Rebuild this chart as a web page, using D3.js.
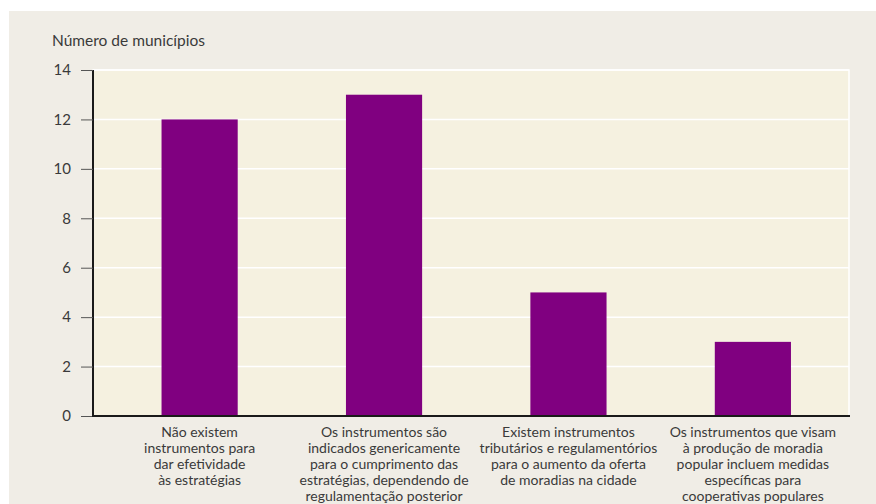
<!DOCTYPE html>
<html>
<head>
<meta charset="utf-8">
<script src="https://cdn.jsdelivr.net/npm/d3@7/dist/d3.min.js"></script>
<style>
  html, body { margin: 0; padding: 0; background: #ffffff; }
  svg { display: block; }
  text { font-family: Lato, "Open Sans", sans-serif; fill: #3a3a3a; }
</style>
</head>
<body>
<svg id="chart" width="876" height="504"></svg>
<script>
// Categories (each entry is a list of label lines)
const categories = [
  ["Não existem", "instrumentos para", "dar efetividade", "às estratégias"],
  ["Os instrumentos são", "indicados genericamente", "para o cumprimento das", "estratégias, dependendo de", "regulamentação posterior"],
  ["Existem instrumentos", "tributários e regulamentórios", "para o aumento da oferta", "de moradias na cidade"],
  ["Os instrumentos que visam", "à produção de moradia", "popular incluem medidas", "específicas para", "cooperativas populares"]
];
const values = [12, 13, 5, 3];
const yTicks = [0, 2, 4, 6, 8, 10, 12, 14];
const yLabel = "Número de municípios";

const svg = d3.select("#chart");

// Outer panel
svg.append("rect")
  .attr("x", 9).attr("y", 11)
  .attr("width", 867).attr("height", 493)
  .attr("fill", "#f0ede6");

const plot = { left: 93, right: 849, top: 70, bottom: 416 };

const y = d3.scaleLinear().domain([0, 14]).range([plot.bottom, plot.top]);
const x = d3.scaleBand()
  .domain(d3.range(categories.length))
  .range([107.5, 845])
  .paddingInner(0.587)
  .paddingOuter(0.293);

// Plot background
svg.append("rect")
  .attr("x", plot.left).attr("y", plot.top)
  .attr("width", plot.right - plot.left).attr("height", plot.bottom - plot.top)
  .attr("fill", "#f5f1e0")
  .attr("stroke", "#ffffff").attr("stroke-width", 1.5);

// Horizontal gridlines
svg.append("g")
  .selectAll("line")
  .data(yTicks.filter(d => d > 0))
  .join("line")
  .attr("x1", plot.left).attr("x2", plot.right)
  .attr("y1", d => y(d)).attr("y2", d => y(d))
  .attr("stroke", "#ffffff").attr("stroke-width", 1.5);

// Bars
svg.append("g")
  .selectAll("rect")
  .data(values)
  .join("rect")
  .attr("x", (d, i) => x(i))
  .attr("width", x.bandwidth())
  .attr("y", d => y(d))
  .attr("height", d => y(0) - y(d))
  .attr("fill", "#800080");

// Y axis
const yAxis = svg.append("g")
  .attr("transform", `translate(${plot.left},0)`)
  .call(d3.axisLeft(y).tickValues(yTicks).tickSize(12).tickPadding(10).tickFormat(d3.format("d")));
yAxis.select(".domain").attr("stroke", "#1a1a1a").attr("stroke-width", 2)
  .attr("d", `M0,${plot.top}V${plot.bottom}`);
yAxis.selectAll(".tick line").attr("stroke", "#555").attr("stroke-width", 1);
yAxis.selectAll(".tick text")
  .style("font-size", "15px").attr("fill", "#3a3a3a");

// X axis baseline
svg.append("line")
  .attr("x1", plot.left - 1).attr("x2", plot.right + 1)
  .attr("y1", plot.bottom).attr("y2", plot.bottom)
  .attr("stroke", "#1a1a1a").attr("stroke-width", 2);

// Category labels
const lab = svg.append("g")
  .selectAll("text")
  .data(categories)
  .join("text")
  .attr("text-anchor", "middle")
  .style("font-size", "14px");
lab.each(function(lines, i) {
  const cx = x(i) + x.bandwidth() / 2;
  d3.select(this).selectAll("tspan")
    .data(lines)
    .join("tspan")
    .attr("x", cx)
    .attr("y", (d, j) => 437 + j * 16)
    .text(d => d);
});

// Axis title
svg.append("text")
  .attr("x", 52).attr("y", 46)
  .style("font-size", "15.5px")
  .text(yLabel);
</script>
</body>
</html>
